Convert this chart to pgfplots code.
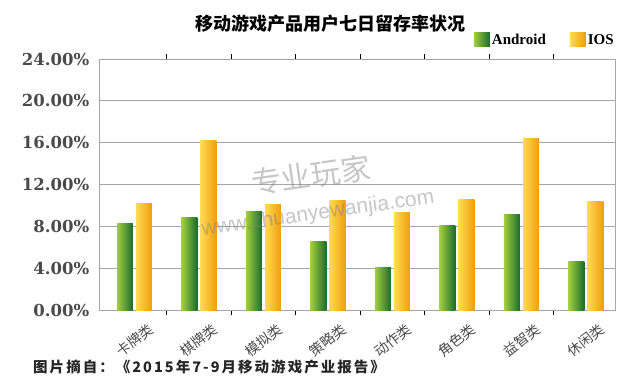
\documentclass[border=0pt]{standalone}
\usepackage{fontspec}
\setmainfont{Liberation Serif}
\newfontfamily\cjk{Noto Sans CJK SC}
\newfontfamily\dvserif{DejaVu Serif}
\newfontfamily\wmfont{Liberation Sans}
\usepackage{pgfplots}
\usepackage{pgfplotstable}
\pgfplotsset{compat=1.18}
\definecolor{andL}{HTML}{A2CF3C}
\definecolor{andR}{HTML}{1A6B2E}
\definecolor{iosL}{HTML}{FFDA55}
\definecolor{iosR}{HTML}{F09E0C}
\definecolor{gridc}{HTML}{A6A6A6}
\definecolor{labc}{HTML}{4A4A4A}
\pgfplotstableread{
x android ios
0 8.29 10.20
1 8.89 16.19
2 9.46 10.07
3 6.53 10.45
4 4.04 9.37
5 8.10 10.58
6 9.15 16.38
7 4.68 10.33
}\datatable
\begin{document}
\begin{tikzpicture}
\useasboundingbox (-99pt,-81pt) rectangle (540pt,310pt);
\begin{axis}[
  at={(0pt,0pt)}, anchor=south west,
  scale only axis, width=516pt, height=251pt,
  xmin=-0.55, xmax=7.45, ymin=0, ymax=24,
  ytick={0,4,...,24},
  xtick={0,...,7},
  xticklabels={卡牌类,棋牌类,模拟类,策略类,动作类,角色类,益智类,休闲类},
  major x tick style={draw=none},
  ytick style={draw=none},
  minor x tick num=1,
  minor x tick style={draw=black, line width=1.2pt},
  minor tick length=5pt, tick align=center,
  ymajorgrids,
  grid style={gridc, line width=0.9pt},
  axis line style={gridc, line width=0.9pt},
  ybar, bar width=16pt,
  /pgf/number format/assume math mode=true,
  yticklabel={\pgfmathprintnumber[fixed,fixed zerofill,precision=2]{\tick}\%},
  yticklabel style={font=\dvserif\bfseries\fontsize{16.5}{17}\selectfont, text=labc, xshift=-4pt},
  xticklabel style={font=\cjk\fontsize{14}{14}\selectfont, text=labc, yshift=-26pt, rotate=38, anchor=center},
  legend columns=2,
  legend style={draw=none, fill=none, at={(0.864,1.076)}, anchor=center,
    font=\bfseries\fontsize{15}{15}\selectfont,
    /tikz/every even column/.append style={column sep=22pt},
    nodes={inner xsep=2pt}},
  legend image code/.code={\fill[#1, draw=none] (0pt,-7pt) rectangle (16pt,7pt);},
]
\pgfplotsinvokeforeach{0,...,7}{
  \addplot[forget plot, draw=none, bar shift=-9.5pt, left color=andL, right color=andR,
    x filter/.expression={abs(x-#1)<0.1 ? x : nan}] table[x=x,y=android]{\datatable};
  \addplot[forget plot, draw=none, bar shift=9.5pt, left color=iosL, right color=iosR,
    x filter/.expression={abs(x-#1)<0.1 ? x : nan}] table[x=x,y=ios]{\datatable};
}
\addlegendimage{draw=none, left color=andL, right color=andR}
\addlegendentry{Android}
\addlegendimage{draw=none, left color=iosL, right color=iosR}
\addlegendentry{IOS}
\end{axis}
\node[font=\cjk\bfseries\fontsize{18}{18}\selectfont] at (231pt,286pt) {移动游戏产品用户七日留存率状况};
\node[anchor=west, inner sep=0pt, font=\cjk\bfseries\fontsize{14.5}{15}\selectfont\addfontfeature{LetterSpace=14}, text=black!85] at (-66pt,-57pt) {图片摘自：《2015年7-9月移动游戏产业报告》};
\node[rotate=8, opacity=0.45, text=gray, font=\cjk\fontsize{30}{30}\selectfont] at (212pt,135pt) {专业玩家};
\node[rotate=8, opacity=0.45, text=gray, font=\wmfont\fontsize{21}{21}\selectfont] at (219pt,96pt) {www.zhuanyewanjia.com};
\end{tikzpicture}
\end{document}
